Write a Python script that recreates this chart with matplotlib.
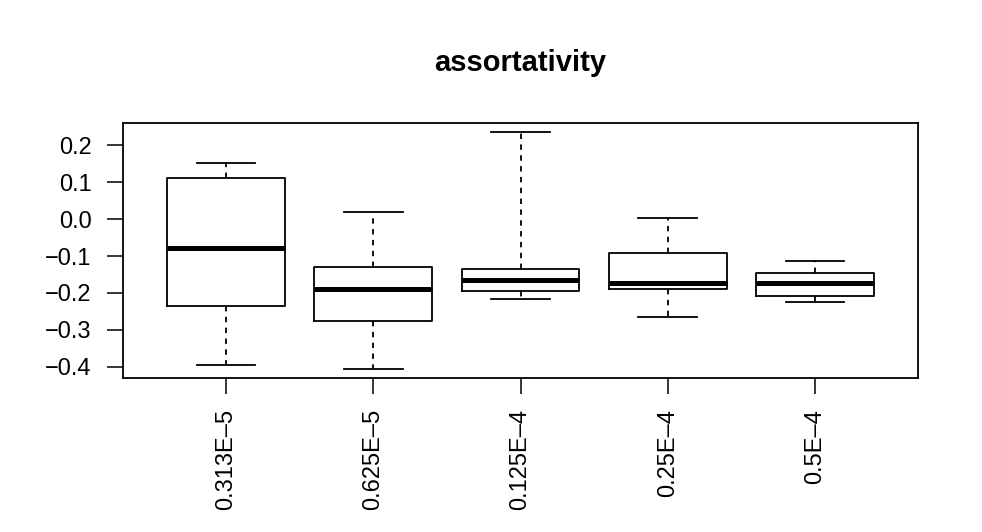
import matplotlib
matplotlib.use('Agg')
import matplotlib.pyplot as plt

plt.rcParams['font.family'] = ['Liberation Sans', 'DejaVu Sans']

# Category labels and box statistics
labels = ['0.313E\u20135', '0.625E\u20135', '0.125E\u20134', '0.25E\u20134', '0.5E\u20134']
whislo = [-0.395, -0.405, -0.216, -0.265, -0.224]
q1 = [-0.235, -0.276, -0.195, -0.189, -0.208]
med = [-0.078, -0.189, -0.165, -0.173, -0.173]
q3 = [0.111, -0.130, -0.135, -0.092, -0.146]
whishi = [0.151, 0.019, 0.235, 0.003, -0.114]

stats = []
for i in range(len(labels)):
    stats.append({'label': labels[i], 'whislo': whislo[i], 'q1': q1[i], 'med': med[i],
                  'q3': q3[i], 'whishi': whishi[i], 'fliers': []})

fig = plt.figure(figsize=(9.82, 5.32), dpi=100)
ax = fig.add_axes([123 / 982, 1 - 378 / 532, (918 - 123) / 982, (378 - 123) / 532])

ax.bxp(stats, positions=range(1, 6), widths=0.8, showfliers=False,
       boxprops=dict(color='black', linewidth=1.3),
       medianprops=dict(color='black', linewidth=3.6, solid_capstyle='butt'),
       whiskerprops=dict(color='black', linewidth=1.3, linestyle=(0, (3, 3))),
       capprops=dict(color='black', linewidth=1.3),
       capwidths=0.4)

ax.set_xlim(0.3, 5.7)
ax.set_ylim(-0.4306, 0.2606)
ax.set_yticks([-0.4, -0.3, -0.2, -0.1, 0.0, 0.1, 0.2])
ax.set_yticklabels(['\u22120.4', '\u22120.3', '\u22120.2', '\u22120.1', '0.0', '0.1', '0.2'])
ax.set_xticks(range(1, 6))
ax.set_xticklabels(labels, rotation=90)
ax.tick_params(axis='both', direction='out', length=11.5, width=1.1, labelsize=17, pad=11)
for s in ax.spines.values():
    s.set_linewidth(1.3)

fig.text(520 / 982, 1 - 63 / 532, 'assortativity', ha='center', va='center',
         fontsize=21, fontweight='bold')

fig.savefig('out.png', dpi=100)
plt.close(fig)
